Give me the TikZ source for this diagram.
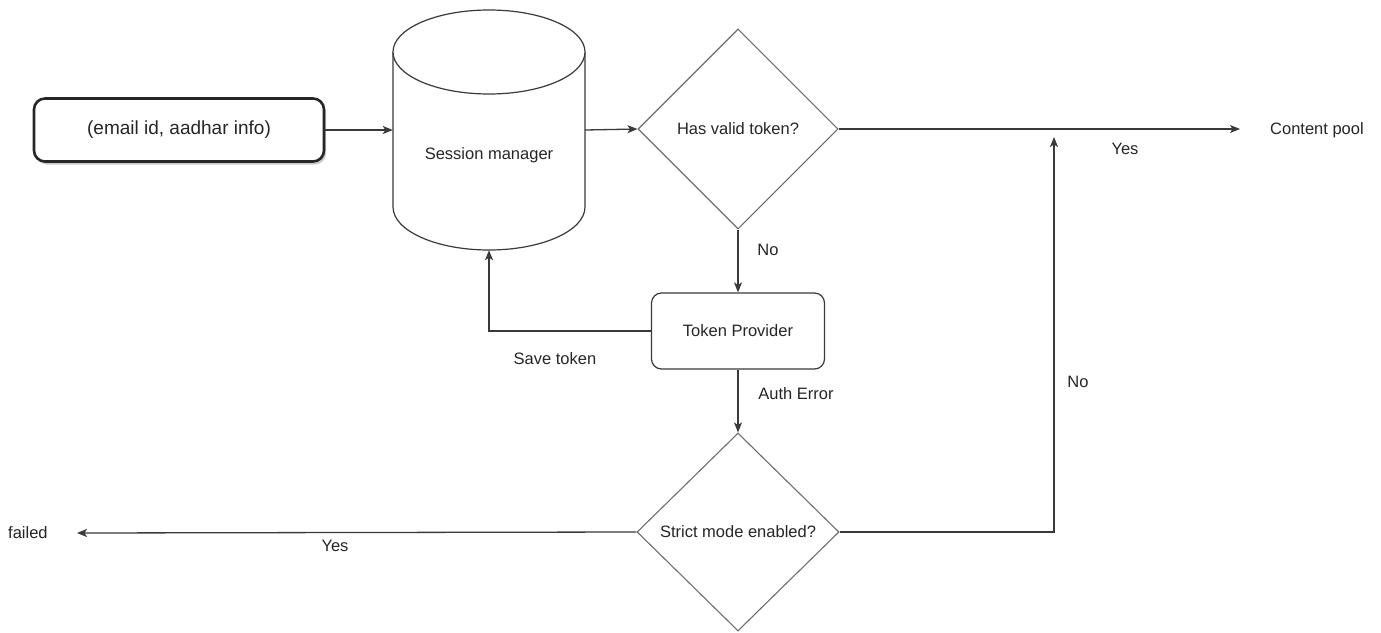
\documentclass[tikz,border=0pt]{standalone}
\usepackage{fontspec}
\setmainfont{Liberation Sans}
\usetikzlibrary{shapes.geometric,arrows.meta,shadows}
\definecolor{linec}{HTML}{3A3A3A}
\definecolor{diac}{HTML}{6E6E6E}
\definecolor{txt}{HTML}{262626}
\tikzset{
  every node/.style={font=\fontsize{16.5}{19}\selectfont, text=txt},
  arr/.style={draw=linec, line width=1.3pt, -{Stealth[length=10pt,width=8pt,inset=2.5pt]}},
  decide/.style={diamond, draw=diac, line width=1.1pt, inner sep=0pt, aspect=1, fill=white},
  procbox/.style={rectangle, rounded corners=10pt, draw=linec, line width=1.2pt, fill=white},
  inbox/.style={rectangle, rounded corners=11pt, draw=black!85, line width=2.6pt, fill=white,
     drop shadow={shadow xshift=2pt, shadow yshift=-3pt, fill=black!35, opacity=0.6}},
  lbl/.style={inner sep=0pt}
}
\begin{document}
\begin{tikzpicture}[x=1pt, y=-1pt]
\useasboundingbox (0,0) rectangle (1381,632);
\fill[white] (0,0) rectangle (1381,632);

% input
\node[inbox, minimum width=290pt, minimum height=63pt, font=\fontsize{19}{22}\selectfont] (in) at (179,130) {(email id, aadhar info)};

% cylinder (session manager)
\node[minimum width=192pt, minimum height=240pt, inner sep=0pt] (sm) at (489,130) {};
\draw[linec, line width=1.2pt, fill=white]
  (393,52) -- (393,207)
  .. controls (393,230.7) and (436,250) .. (489,250)
  .. controls (542,250) and (585,230.7) .. (585,207)
  -- (585,52);
\draw[linec, line width=1.2pt, fill=white] (489,52) ellipse [x radius=96, y radius=42];
\node[lbl] (smt) at (489,155) {Session manager};

% decisions
\node[decide, minimum width=200pt, minimum height=200pt] (d1) at (738,129) {Has valid token?};
\node[decide, minimum width=202pt, minimum height=198pt] (d2) at (738,532) {Strict mode enabled?};

% token provider
\node[procbox, minimum width=173pt, minimum height=76pt] (tp) at (738,331) {Token Provider};

% end texts
\node[lbl, anchor=west] (cp) at (1270,130) {Content pool};
\node[lbl, anchor=west] (fl) at (8,533) {failed};
\coordinate (noend) at (1054,137);
\coordinate (cpend) at (1240,129);
\coordinate (flend) at (77,533);

% connectors
\draw[arr] (in.east) -- (sm.west);
\draw[arr] (sm.east) -- (d1.west);
\draw[arr] (d1.east) -- (cpend);
\draw[arr] (d1.south) -- (tp.north);
\draw[arr] (tp.west) -| (sm.south);
\draw[arr] (tp.south) -- (d2.north);
\draw[arr] (d2.west) -- (flend);
\draw[arr] (d2.east) -| (noend);

% labels
\node[lbl] (lyes1) at (1125,149) {Yes};
\node[lbl] (lno1) at (768,250) {No};
\node[lbl] (lsave) at (555,359) {Save token};
\node[lbl] (lauth) at (796,394) {Auth Error};
\node[lbl] (lno2) at (1078,382) {No};
\node[lbl] (lyes2) at (335,546) {Yes};
\end{tikzpicture}
\end{document}
